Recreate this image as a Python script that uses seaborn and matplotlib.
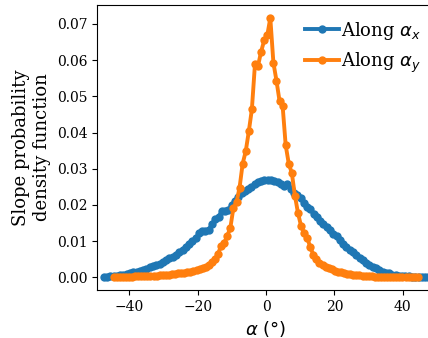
import numpy as np
import pandas as pd
import seaborn as sns
import matplotlib
matplotlib.use("Agg")
import matplotlib.pyplot as plt

# bin centres (degrees) and pdf values
alpha_x = [-47.50, -46.54, -45.58, -44.62, -43.66, -42.70, -41.74, -40.78, -39.82, -38.86,
           -37.90, -36.94, -35.98, -35.02, -34.06, -33.10, -32.14, -31.18, -30.22, -29.26,
           -28.30, -27.34, -26.38, -25.42, -24.46, -23.50, -22.54, -21.58, -20.62, -19.66,
           -18.70, -17.74, -16.78, -15.82, -14.86, -13.90, -12.94, -11.98, -11.02, -10.06,
           -9.10, -8.14, -7.18, -6.22, -5.26, -4.30, -3.34, -2.38, -1.42, -0.46,
           0.50, 1.46, 2.42, 3.38, 4.34, 5.30, 6.26, 7.22, 8.18, 9.14,
           10.10, 11.06, 12.02, 12.98, 13.94, 14.90, 15.86, 16.82, 17.78, 18.74,
           19.70, 20.66, 21.62, 22.58, 23.54, 24.50, 25.46, 26.42, 27.38, 28.34,
           29.30, 30.26, 31.22, 32.18, 33.14, 34.10, 35.06, 36.02, 36.98, 37.94,
           38.90, 39.86, 40.82, 41.78, 42.74, 43.70, 44.66, 45.62, 46.58, 47.54]
pdf_x = [0.0001, 0.0002, 0.0003, 0.0004, 0.0005, 0.0006, 0.0008, 0.0010, 0.0012, 0.0014,
         0.0016, 0.0018, 0.0021, 0.0024, 0.0028, 0.0031, 0.0034, 0.0038, 0.0042, 0.0047,
         0.0053, 0.0057, 0.0063, 0.0070, 0.0077, 0.0084, 0.0093, 0.0100, 0.0108, 0.0122,
         0.0128, 0.0127, 0.0132, 0.0148, 0.0161, 0.0168, 0.0183, 0.0182, 0.0186, 0.0201,
         0.0210, 0.0222, 0.0233, 0.0238, 0.0245, 0.0250, 0.0257, 0.0262, 0.0265, 0.0268,
         0.0270, 0.0268, 0.0266, 0.0262, 0.0257, 0.0251, 0.0259, 0.0245, 0.0232, 0.0228,
         0.0220, 0.0206, 0.0193, 0.0188, 0.0176, 0.0166, 0.0157, 0.0147, 0.0138, 0.0130,
         0.0121, 0.0113, 0.0102, 0.0093, 0.0085, 0.0077, 0.0069, 0.0062, 0.0054, 0.0047,
         0.0041, 0.0035, 0.0030, 0.0025, 0.0021, 0.0016, 0.0013, 0.0011, 0.0008, 0.0006,
         0.0005, 0.0004, 0.0003, 0.0003, 0.0002, 0.0002, 0.0001, 0.0001, 0.0001, 0.0001]

alpha_y = [-44.65, -43.75, -42.85, -41.95, -41.05, -40.15, -39.25, -38.35, -37.45, -36.55,
           -35.65, -34.75, -33.85, -32.95, -32.05, -31.15, -30.25, -29.35, -28.45, -27.55,
           -26.65, -25.75, -24.85, -23.95, -23.05, -22.15, -21.25, -20.35, -19.45, -18.55,
           -17.65, -16.75, -15.85, -14.95, -14.05, -13.15, -12.25, -11.35, -10.45, -9.55,
           -8.65, -7.75, -6.85, -5.95, -5.05, -4.15, -3.25, -2.35, -1.45, -0.55,
           0.35, 1.25, 2.15, 3.05, 3.95, 4.85, 5.75, 6.65, 7.55, 8.45,
           9.35, 10.25, 11.15, 12.05, 12.95, 13.85, 14.75, 15.65, 16.55, 17.45,
           18.35, 19.25, 20.15, 21.05, 21.95, 22.85, 23.75, 24.65, 25.55, 26.45,
           27.35, 28.25, 29.15, 30.05, 30.95, 31.85, 32.75, 33.65, 34.55, 35.45,
           36.35, 37.25, 38.15, 39.05, 39.95, 40.85, 41.75, 42.65, 43.55, 44.45]
pdf_y = [0.0001, 0.0001, 0.0001, 0.0002, 0.0002, 0.0002, 0.0002, 0.0003, 0.0003, 0.0003,
         0.0004, 0.0004, 0.0004, 0.0005, 0.0005, 0.0006, 0.0006, 0.0007, 0.0008, 0.0009,
         0.0010, 0.0011, 0.0012, 0.0013, 0.0014, 0.0016, 0.0018, 0.0020, 0.0023, 0.0027,
         0.0030, 0.0035, 0.0043, 0.0052, 0.0065, 0.0088, 0.0095, 0.0115, 0.0137, 0.0192,
         0.0208, 0.0248, 0.0314, 0.0348, 0.0403, 0.0464, 0.0588, 0.0584, 0.0623, 0.0654,
         0.0668, 0.0716, 0.0593, 0.0543, 0.0487, 0.0474, 0.0365, 0.0314, 0.0288, 0.0226,
         0.0178, 0.0142, 0.0123, 0.0110, 0.0083, 0.0063, 0.0050, 0.0041, 0.0035, 0.0030,
         0.0027, 0.0023, 0.0019, 0.0016, 0.0014, 0.0012, 0.0010, 0.0009, 0.0008, 0.0007,
         0.0006, 0.0005, 0.0004, 0.0003, 0.0003, 0.0002, 0.0002, 0.0002, 0.0002, 0.0002,
         0.0001, 0.0001, 0.0001, 0.0001, 0.0001, 0.0001, 0.0001, 0.0001, 0.0001, 0.0001]

series_names = [r"Along $\alpha_x$", r"Along $\alpha_y$"]

df = pd.concat([
    pd.DataFrame({"alpha": alpha_x, "pdf": pdf_x, "dir": series_names[0]}),
    pd.DataFrame({"alpha": alpha_y, "pdf": pdf_y, "dir": series_names[1]}),
])

plt.rcParams["font.family"] = "DejaVu Serif"

fig = plt.figure(figsize=(4.28, 3.38), dpi=100)
ax = fig.add_axes([0.2266, 0.142, 0.79, 0.843])

sns.lineplot(data=df, x="alpha", y="pdf", hue="dir", sort=False,
             palette=["#1f77b4", "#ff7f0e"], marker="o", markersize=6,
             markeredgewidth=0, linewidth=2.8, ax=ax)

ax.set_xlim(-49.5, 49.5)
ax.set_xticks([-40, -20, 0, 20, 40])
ax.set_yticks([0.0, 0.01, 0.02, 0.03, 0.04, 0.05, 0.06, 0.07])
ax.yaxis.set_major_formatter(matplotlib.ticker.FormatStrFormatter("%.2f"))
ax.tick_params(labelsize=10)
ax.set_xlabel(r"$\alpha\ (°)$", fontsize=13)
ax.set_ylabel("Slope probability\ndensity function", fontsize=13)
ax.legend(frameon=False, fontsize=13, loc="upper right",
          handlelength=1.9, handletextpad=0.1, borderaxespad=0.4)

fig.savefig("out.png", dpi=100)
